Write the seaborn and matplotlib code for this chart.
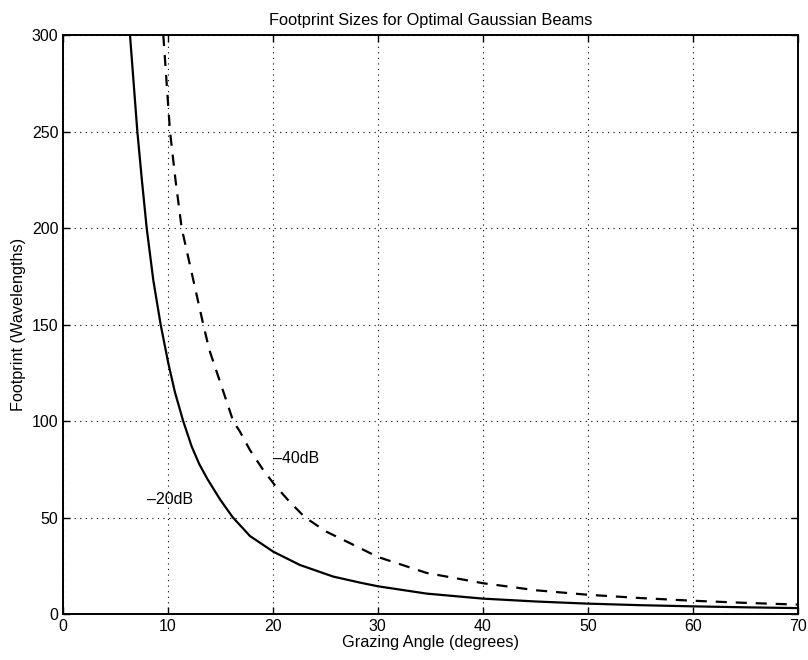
import numpy as np
import pandas as pd
from matplotlib import pyplot as plt
import seaborn as sns

# grazing angle (deg) and footprint (wavelengths)
angle_20db = [6.42, 7.12, 7.55, 8.01, 8.64, 9.34, 10.07, 10.7, 11.49, 12.29,
              13.0, 13.78, 15.0, 16.2, 17.84, 20.06, 22.6, 25.77, 28.3, 30.0,
              34.65, 40.0, 45.1, 50.0, 55.0, 60.0, 65.0, 70.0]
foot_20db = [300, 250, 225, 200, 173, 150, 130, 115, 100, 87,
             78, 70.2, 59.5, 50.3, 40.6, 32.5, 25.6, 19.6, 16.5, 14.6,
             10.8, 8.2, 6.7, 5.6, 4.8, 4.2, 3.7, 3.3]

angle_40db = [9.59, 10.23, 10.75, 11.34, 12.51, 13.4, 13.97, 14.92, 16.25,
              16.89, 17.84, 19.1, 20.2, 21.6, 23.07, 25.1, 27.7, 30.0,
              34.65, 40.0, 45.1, 50.0, 55.0, 60.0, 65.0, 70.0]
foot_40db = [300, 250, 225, 200, 171.6, 150, 137, 121.6, 100,
             94.6, 85.1, 74.8, 67, 58.4, 50.3, 42.9, 36, 29.8,
             21.5, 16.2, 12.5, 10.2, 8.5, 7.1, 6.0, 5.1]

xticks = [0, 10, 20, 30, 40, 50, 60, 70]
yticks = [0, 50, 100, 150, 200, 250, 300]

sns.set_style("ticks")
plt.rcParams['font.family'] = ['Liberation Sans', 'DejaVu Sans']
plt.rcParams['font.size'] = 11.5
plt.rcParams['text.color'] = 'black'
plt.rcParams['axes.labelcolor'] = 'black'

fig = plt.figure(figsize=(8.08, 6.6), dpi=100)
ax = fig.add_axes([0.0774, 0.069, 0.9102, 0.878])

df20 = pd.DataFrame({"angle": angle_20db, "foot": foot_20db})
df40 = pd.DataFrame({"angle": angle_40db, "foot": foot_40db})
sns.lineplot(data=df20, x="angle", y="foot", sort=False, color="black",
             linewidth=1.6, ax=ax)
sns.lineplot(data=df40, x="angle", y="foot", sort=False, color="black",
             linewidth=1.6, linestyle=(0, (5, 4)), ax=ax)

# curve labels
ax.text(8.0, 59.5, "\u201320dB", fontsize=11.4, va="center", ha="left")
ax.text(20.05, 80.5, "\u201340dB", fontsize=11.4, va="center", ha="left")

ax.set_xlim(0, 70)
ax.set_ylim(0, 300)
ax.set_xticks(xticks)
ax.set_yticks(yticks)
ax.grid(True, color="black", linestyle=(0, (1, 4)), linewidth=0.8)
ax.tick_params(direction="in", length=5, width=1, top=True, right=True,
               labelsize=11.5, colors="black", pad=3)
for sp in ax.spines.values():
    sp.set_visible(True)
    sp.set_linewidth(1.4)
    sp.set_color("black")

ax.set_title("Footprint Sizes for Optimal Gaussian Beams", fontsize=11.8,
             pad=7, color="black")
ax.set_xlabel("Grazing Angle (degrees)", fontsize=11.7, labelpad=1)
ax.set_ylabel("Footprint (Wavelengths)", fontsize=11.7, labelpad=4)

fig.savefig("out.png", dpi=100)
